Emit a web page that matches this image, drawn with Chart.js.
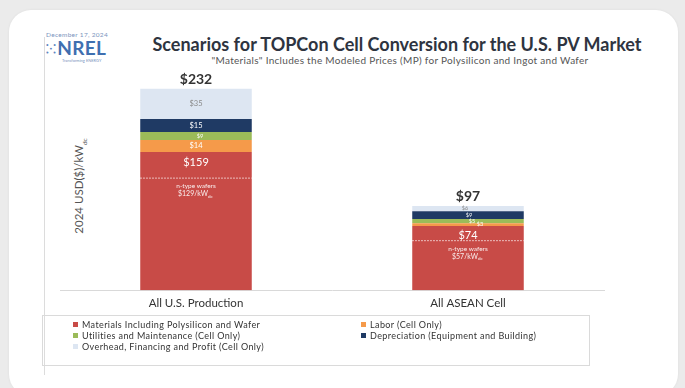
<!DOCTYPE html>
<html>
<head>
<meta charset="utf-8">
<script src="https://cdn.jsdelivr.net/npm/chart.js@4.4.1/dist/chart.umd.min.js"></script>
<style>
  html, body { margin: 0; padding: 0; }
  body { width: 685px; height: 388px; background: #ebebeb; position: relative; overflow: hidden; font-family: Lato, "Open Sans", sans-serif; }
  #card { position: absolute; left: 9px; top: 10px; width: 669px; height: 386px; background: #fff; border-radius: 22px; box-shadow: 0 0 3px rgba(0,0,0,0.06); }
  #slideLine { position: absolute; left: 44px; top: 37px; width: 1px; height: 338px; background: #dcdcdc; }
  #logo { position: absolute; left: 46px; top: 31px; width: 70px; }
  #logo .date { font-size: 6.5px; color: #7a93bd; letter-spacing: 0.3px; }
  #logo .mark { font-size: 19px; font-weight: 700; color: #3f6fb0; line-height: 19px; letter-spacing: 0.3px; }
  #logo .mark span { font-size: 12px; color: #5d84bf; vertical-align: 2px; margin-right: 1px; }
  #logo .tag { font-size: 4px; color: #7a93bd; margin-left: 16px; }
  #title { position: absolute; left: 100px; width: 594px; top: 33px; text-align: center; font-weight: 700; font-size: 18px; color: #2e3440; }
  #subtitle { position: absolute; left: 100px; width: 600px; top: 54px; text-align: center; font-size: 10px; letter-spacing: 0.3px; color: #555; }
  #yTitle { position: absolute; left: 80px; top: 186px; transform: translate(-50%, -50%) rotate(-90deg); font-size: 11.5px; color: #555; white-space: nowrap; }
  #yTitle sub { font-size: 6.5px; }
  #chartWrap { position: absolute; left: 0; top: 0; width: 685px; height: 316px; }
  #legend { position: absolute; left: 42px; top: 315px; width: 548px; height: 51px; border: 1px solid #dadada; box-sizing: border-box; }
  #legend .item { position: absolute; font-size: 9px; letter-spacing: 0.4px; color: #333; white-space: nowrap; }
  #legend .item i { display: inline-block; width: 5px; height: 5px; margin-right: 4px; vertical-align: 1px; }
</style>
</head>
<body>
<div id="card"></div>
<div id="slideLine"></div>
<div id="logo">
  <div class="date">December 17, 2024</div>
  <div class="mark"><span>&#x2059;</span>NREL</div>
  <div class="tag">Transforming ENERGY</div>
</div>
<div id="title">Scenarios for TOPCon Cell Conversion for the U.S. PV Market</div>
<div id="subtitle">"Materials" Includes the Modeled Prices (MP) for Polysilicon and Ingot and Wafer</div>
<div id="yTitle">2024 USD($)/kW<sub>dc</sub></div>
<div id="chartWrap"><canvas id="myChart"></canvas></div>
<div id="legend"></div>

<script>
// scenarios on the x axis
const scenarios = ['All U.S. Production', 'All ASEAN Cell'];

// cost components, USD/kW_dc
const materials = [159, 74];
const labor = [14, 3];
const utilities = [9, 5];
const depreciation = [15, 9];
const overhead = [35, 6];

// totals printed above the bars
const totals = [232, 97];

// n-type wafer share of materials (dotted line inside the red segment)
const waferCost = [129, 57];

const seriesNames = [
  'Materials Including Polysilicon and Wafer',
  'Labor (Cell Only)',
  'Utilities and Maintenance (Cell Only)',
  'Depreciation (Equipment and Building)',
  'Overhead, Financing and Profit (Cell Only)'
];
const seriesColors = ['#c84b47', '#f59a4a', '#9bbb59', '#1f3a64', '#dde6f2'];
const labelColors = ['#ffffff', '#ffffff', '#ffffff', '#ffffff', '#8a8a8a'];

const seriesValues = [materials, labor, utilities, depreciation, overhead];

// draws $ labels inside segments, totals on top and the wafer line
const barLabels = {
  id: 'barLabels',
  afterDatasetsDraw(chart) {
    const ctx = chart.ctx;
    const yScale = chart.scales.y;
    ctx.save();
    ctx.textAlign = 'center';
    ctx.textBaseline = 'middle';

    chart.data.datasets.forEach((ds, di) => {
      const meta = chart.getDatasetMeta(di);
      meta.data.forEach((bar, i) => {
        const h = Math.abs(bar.base - bar.y);
        let x = bar.x;
        let y = (bar.y + bar.base) / 2;
        let size = 7.5;
        if (di === 0) {
          // materials label sits near the top of its segment
          y = bar.y + 10;
          size = 11;
        } else if (h < 8) {
          // small segments get staggered tiny labels
          size = 5.5;
          x += [0, 12, 4, 1, -3][di];
        }
        ctx.font = size + 'px Lato, sans-serif';
        ctx.fillStyle = labelColors[di];
        ctx.fillText('$' + ds.data[i], x, y);
      });
    });

    // wafer dotted line and note
    const meta0 = chart.getDatasetMeta(0);
    meta0.data.forEach((bar, i) => {
      const half = bar.width / 2;
      const y = yScale.getPixelForValue(waferCost[i]);
      ctx.strokeStyle = 'rgba(255,255,255,0.85)';
      ctx.lineWidth = 1;
      ctx.setLineDash([1.5, 1.5]);
      ctx.beginPath();
      ctx.moveTo(bar.x - half, y);
      ctx.lineTo(bar.x + half, y);
      ctx.stroke();
      ctx.setLineDash([]);
      ctx.fillStyle = 'rgba(255,255,255,0.9)';
      ctx.font = '6.5px Lato, sans-serif';
      ctx.fillText('n-type wafers', bar.x, y + 8);
      const main = '$' + waferCost[i] + '/kW';
      ctx.font = '7px Lato, sans-serif';
      const w = ctx.measureText(main).width;
      ctx.fillText(main, bar.x - 3, y + 16);
      ctx.font = '4.5px Lato, sans-serif';
      ctx.textAlign = 'left';
      ctx.fillText('dc', bar.x - 3 + w / 2, y + 18);
      ctx.textAlign = 'center';
    });

    // totals
    const lastMeta = chart.getDatasetMeta(chart.data.datasets.length - 1);
    lastMeta.data.forEach((bar, i) => {
      ctx.font = 'bold 14px Lato, sans-serif';
      ctx.fillStyle = '#333';
      ctx.textBaseline = 'alphabetic';
      ctx.fillText('$' + totals[i], bar.x, bar.y - 5);
      ctx.textBaseline = 'middle';
    });
    ctx.restore();
  }
};

function drawChart() {
  const ctx = document.getElementById('myChart').getContext('2d');

  const datasets = seriesNames.map((name, k) => ({
    label: name,
    data: seriesValues[k],
    backgroundColor: seriesColors[k],
    borderWidth: 0,
    barPercentage: 0.82,
    categoryPercentage: 0.5
  }));

  new Chart(ctx, {
    type: 'bar',
    data: { labels: scenarios, datasets: datasets },
    options: {
      responsive: true,
      maintainAspectRatio: false,
      animation: false,
      layout: { padding: { left: 60, right: 81, top: 73, bottom: 0 } },
      plugins: {
        legend: { display: false },
        tooltip: { enabled: false }
      },
      scales: {
        x: {
          stacked: true,
          grid: { display: false, drawTicks: false },
          border: { display: true, color: '#d9d9d9' },
          ticks: { color: '#333', font: { family: 'Lato', size: 11.5 }, padding: 6 }
        },
        y: {
          stacked: true,
          display: false,
          min: 0,
          max: 250
        }
      }
    },
    plugins: [barLabels]
  });

  // legend in two columns under the plot
  const legend = document.getElementById('legend');
  seriesNames.forEach((name, k) => {
    const item = document.createElement('div');
    item.className = 'item';
    item.style.left = (k % 2 === 0 ? 30 : 318) + 'px';
    item.style.top = (3 + Math.floor(k / 2) * 11) + 'px';
    item.innerHTML = `<i style="background:${seriesColors[k]}"></i>${name}`;
    legend.appendChild(item);
  });
}

drawChart();
</script>
</body>
</html>
